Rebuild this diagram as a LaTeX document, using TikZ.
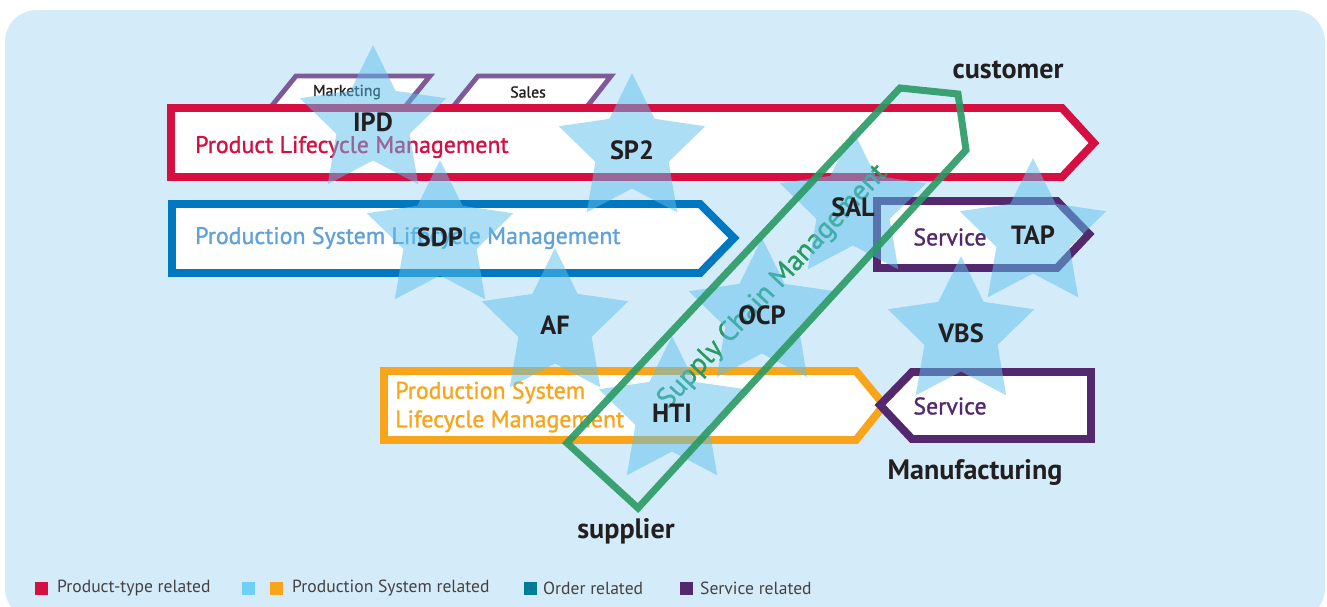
\documentclass[tikz,border=0pt]{standalone}
\usepackage{fontspec}
\setmainfont{PT Sans}
\newfontfamily\medfont{PT Sans}[FakeBold=1.2]
\usetikzlibrary{shapes.geometric}

\definecolor{bgblue}{HTML}{D4ECF9}
\definecolor{plmred}{HTML}{D60F42}
\definecolor{pslblue}{HTML}{0078C1}
\definecolor{txtblue}{HTML}{5FA2DA}
\definecolor{pslorange}{HTML}{F8A51B}
\definecolor{srvpurple}{HTML}{53286F}
\definecolor{tabpurple}{HTML}{7E5B98}
\definecolor{starblue}{HTML}{5BC0EE}
\definecolor{legblue}{HTML}{6FCFF5}
\definecolor{scmgreen}{HTML}{2A9A64}
\definecolor{ordteal}{HTML}{007C99}
\definecolor{darktext}{HTML}{231F20}

\newcommand{\fsz}[1]{\fontsize{#1}{1.2\dimexpr#1pt\relax}\selectfont}

\begin{document}
\begin{tikzpicture}[x=0.02cm, y=-0.02cm,
    arrowline/.style={fill=white, line width=4.5pt, line join=miter},
    tabline/.style={draw=tabpurple, fill=white, line width=2.8pt, line join=miter},
    starnode/.style={star, star points=5, star point ratio=2, minimum size=3.08cm,
        inner sep=0pt, fill=starblue, fill opacity=0.5, text opacity=1,
        text=darktext, font=\bfseries\fsz{15}},
    bigtext/.style={anchor=west, font=\medfont\fsz{13.6}},
    darklabel/.style={text=darktext, font=\bfseries\fsz{16}},
    legtext/.style={anchor=west, text=darktext!85, font=\fsz{10}}]

    % background
    \useasboundingbox (0,0) rectangle (1327,606);
    \fill[bgblue, rounded corners=18] (5,10) rectangle (1325,620);

    % Marketing and Sales tabs
    \draw[tabline] (270,108) -- (296,76) -- (430,76) -- (404,108);
    \draw[tabline] (452,108) -- (478,76) -- (611,76) -- (586,108);
    \node[text=darktext, font=\medfont\fsz{9}] (marketing) at (347,92) {Marketing};
    \node[text=darktext, font=\medfont\fsz{9}] (sales) at (528,92) {Sales};

    % lifecycle arrows
    \draw[arrowline, draw=plmred] (171,108) -- (1062,108) -- (1094,143) -- (1062,177) -- (171,177) -- cycle;
    \draw[arrowline, draw=pslblue] (172,204) -- (700,204) -- (734,238) -- (700,273) -- (172,273) -- cycle;
    \draw[arrowline, draw=pslorange] (384,371) -- (856,371) -- (884,405) -- (856,440) -- (384,440) -- cycle;
    \draw[arrowline, draw=srvpurple] (877,201) -- (1057,201) -- (1089,234) -- (1057,268) -- (877,268) -- cycle;
    \draw[arrowline, draw=srvpurple] (1091,372) -- (912,372) -- (880,405) -- (912,439) -- (1091,439) -- cycle;

    \node[bigtext, text=plmred] (plmtext) at (189,147) {Product Lifecycle Management};
    \node[bigtext, text=txtblue] (psltext) at (189,238) {Production System Lifecycle Management};
    \node[bigtext, text=pslorange, align=left] (pslmtext) at (389,407) {Production System\\Lifecycle Management};
    \node[text=srvpurple, font=\medfont\fsz{13.6}] (service1) at (950,237) {Service};
    \node[text=srvpurple, font=\medfont\fsz{13.6}] (service2) at (950,406) {Service};

    % supply chain label
    \node[rotate=47, text=scmgreen, font=\medfont\fsz{16}] (scmtext) at (773,287) {Supply Chain Management};

    % stars
    \node[starnode] (ipd) at (373,122) {IPD};
    \node[starnode] (sp2) at (632,150) {SP2};
    \node[starnode] (sdp) at (440,237) {SDP};
    \node[starnode] (af) at (555,325) {AF};
    \node[starnode] (ocp) at (762,315) {OCP};
    \node[starnode] (hti) at (672,413) {HTI};
    \node[starnode] (sal) at (853,207) {SAL};
    \node[starnode] (tap) at (1033,235) {TAP};
    \node[starnode] (vbs) at (961,333) {VBS};

    % supply chain box
    \draw[draw=scmgreen, draw opacity=0.9, line width=4pt, line join=miter]
        (567,443) -- (900,88) -- (958,94) -- (966,150) -- (638,508) -- cycle;

    \node[darklabel] (customer) at (1008,70) {customer};
    \node[darklabel] (supplier) at (626,531) {supplier};
    \node[darklabel] (manuf) at (975,472) {Manufacturing};

    % legend
    \fill[plmred] (35,582) rectangle (48,595);
    \node[legtext] (leg1) at (51,588) {Product-type related};
    \fill[legblue] (242,582) rectangle (255,595);
    \fill[pslorange] (270,582) rectangle (283,595);
    \node[legtext] (leg2) at (286,588) {Production System related};
    \fill[ordteal] (524,582) rectangle (537,595);
    \node[legtext] (leg3) at (537,588) {Order related};
    \fill[srvpurple] (680,582) rectangle (693,595);
    \node[legtext] (leg4) at (694,588) {Service related};
\end{tikzpicture}
\end{document}
